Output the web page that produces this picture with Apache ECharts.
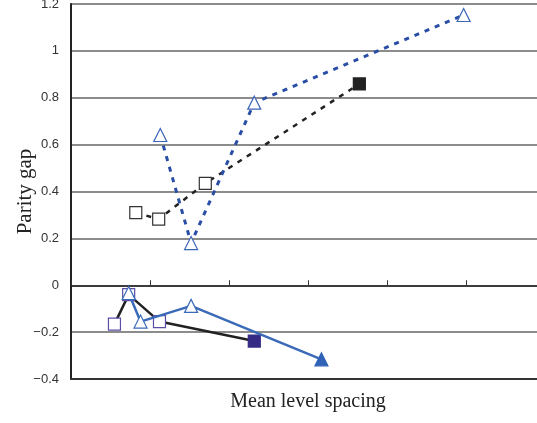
<!doctype html>
<html>
<head>
<meta charset="utf-8">
<title>Parity gap</title>
<style>
  html, body { margin: 0; padding: 0; background: #fff; }
  #main { width: 537px; height: 423px; }
</style>
</head>
<body>
<div id="main"></div>
<script src="https://cdn.jsdelivr.net/npm/echarts@6/dist/echarts.min.js"></script>
<script>
// upper group (dashed)
var upperTriX = [1.13, 1.52, 2.32, 4.97];
var upperTriY = [0.641, 0.18, 0.779, 1.153];
var upperSqX = [0.82, 1.11, 1.70, 3.65];
var upperSqY = [0.31, 0.282, 0.435, 0.859];
// lower group (solid)
var lowerSqX = [0.55, 0.73, 1.12, 2.32];
var lowerSqY = [-0.166, -0.04, -0.155, -0.238];
var lowerTriX = [0.73, 0.88, 1.52, 3.17];
var lowerTriY = [-0.033, -0.155, -0.088, -0.316];

var yTicks = [-0.4, -0.2, 0, 0.2, 0.4, 0.6, 0.8, 1, 1.2];

function pairs(xs, ys, lastStyle) {
    return xs.map(function (x, i) {
        var item = { value: [x, ys[i]] };
        if (lastStyle && i === xs.length - 1) item.itemStyle = lastStyle;
        return item;
    });
}

var chart = echarts.init(document.getElementById('main'), null, { devicePixelRatio: 1 });

chart.setOption({
    animation: false,
    grid: { left: 71, right: -8, top: 4, bottom: 44, outerBoundsMode: 'none' },
    xAxis: [{
        type: 'value',
        min: 0,
        max: 6,
        interval: 1,
        axisLine: { onZero: true, lineStyle: { color: '#222', width: 1.5 } },
        axisTick: { show: true, inside: true, length: 5, lineStyle: { color: '#333' } },
        axisLabel: { show: false },
        splitLine: { show: false }
    }, {
        type: 'value',
        position: 'bottom',
        min: 0,
        max: 6,
        axisLine: { show: true, onZero: false, lineStyle: { color: '#333', width: 2 } },
        axisTick: { show: false },
        axisLabel: { show: false },
        splitLine: { show: false },
        name: 'Mean level spacing',
        nameLocation: 'middle',
        nameGap: 13,
        nameTextStyle: { fontFamily: 'Liberation Serif', fontSize: 20, color: '#222' }
    }],
    yAxis: {
        type: 'value',
        min: yTicks[0],
        max: yTicks[yTicks.length - 1],
        interval: 0.2,
        axisLine: { show: true, onZero: false, lineStyle: { color: '#222', width: 2 } },
        axisTick: { show: false },
        axisLabel: {
            margin: 12,
            fontFamily: 'Liberation Sans',
            fontSize: 13,
            color: '#333',
            formatter: function (v) {
                var s = String(Math.round(v * 10) / 10);
                return s.replace('-', '\u2212');
            }
        },
        splitLine: { show: true, lineStyle: { color: '#666', width: 1.5 } },
        name: 'Parity gap',
        nameLocation: 'middle',
        nameGap: 35,
        nameMoveOverlap: false,
        nameTextStyle: { fontFamily: 'Liberation Serif', fontSize: 21, color: '#222' }
    },
    series: [{
        name: 'upper squares',
        type: 'line',
        data: pairs(upperSqX, upperSqY, { color: '#222', borderColor: '#222' }),
        symbol: 'rect',
        symbolSize: 12,
        itemStyle: { color: '#fff', borderColor: '#333', borderWidth: 1.2 },
        lineStyle: { color: '#222', width: 2.5, type: [5, 6] },
        z: 3
    }, {
        name: 'upper triangles',
        type: 'line',
        data: pairs(upperTriX, upperTriY),
        symbol: 'triangle',
        symbolSize: 13,
        itemStyle: { color: '#fff', borderColor: '#3a64b4', borderWidth: 1.2 },
        lineStyle: { color: '#2a4ea6', width: 3, type: [5, 6] },
        z: 4
    }, {
        name: 'lower squares',
        type: 'line',
        data: pairs(lowerSqX, lowerSqY, { color: '#352b85', borderColor: '#352b85' }),
        symbol: 'rect',
        symbolSize: 12,
        itemStyle: { color: '#fff', borderColor: '#5a4fa6', borderWidth: 1.2 },
        lineStyle: { color: '#222', width: 2.5 },
        z: 3
    }, {
        name: 'lower triangles',
        type: 'line',
        data: pairs(lowerTriX, lowerTriY, { color: '#2f62b6', borderColor: '#2f62b6' }),
        symbol: 'triangle',
        symbolSize: 13,
        itemStyle: { color: '#fff', borderColor: '#3a6ab8', borderWidth: 1.2 },
        lineStyle: { color: '#3a6ab8', width: 2.5 },
        z: 4
    }]
});

window.onresize = chart.resize;
</script>
</body>
</html>
